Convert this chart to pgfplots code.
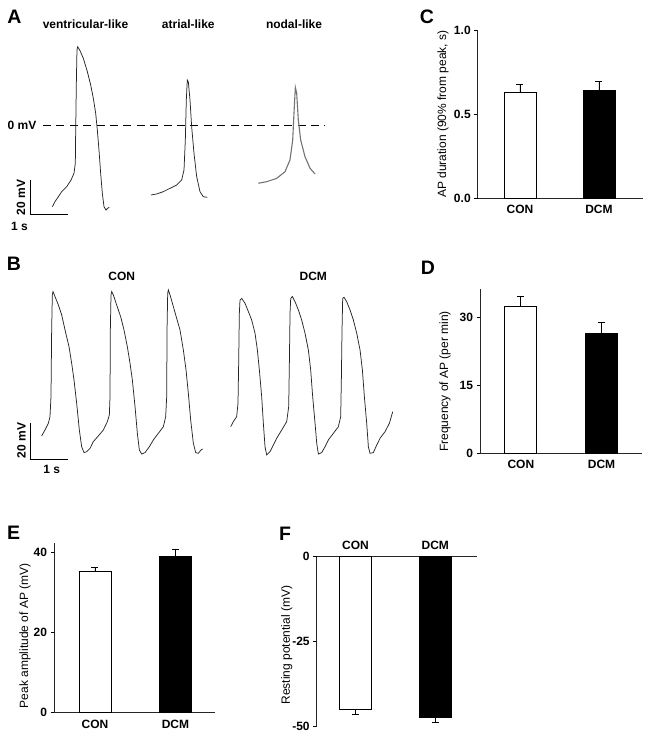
\documentclass[border=0pt]{standalone}
\usepackage{fontspec}
\setmainfont{Liberation Sans}
\usepackage{pgfplots}
\pgfplotsset{compat=1.18}

\newcommand{\lbl}{\bfseries\fontsize{12}{14}\selectfont}
\newcommand{\panel}{\bfseries\fontsize{19.5}{20}\selectfont}

\pgfplotsset{
  barpanel/.style={
    scale only axis, clip=false,
    axis x line*=bottom, axis y line*=left,
    xtick={0,1}, xticklabels={CON,DCM},
    x tick style={draw=none},
    tick align=outside, major tick length=3.5pt,
    y tick style={black, line width=0.8pt},
    ticklabel style={font=\lbl},
    ylabel style={font=\fontsize{12}{14}\selectfont},
    axis line style={line width=0.9pt, black!85},
  },
  errstyle/.style={
    error bars/y explicit,
    error bars/error bar style={line width=0.8pt, black},
    error bars/error mark options={rotate=90, mark size=3.5pt, line width=0.8pt, black}},
  whitebar/.style={ybar, bar shift=0pt, bar width=32pt, fill=white, draw=black, line width=0.9pt, errstyle},
  blackbar/.style={ybar, bar shift=0pt, bar width=32pt, fill=black, draw=black, line width=0.9pt, errstyle},
  trace/.style={line width=0.75pt, black!85, no markers},
}

\begin{document}
\begin{tikzpicture}
\useasboundingbox (0,0) rectangle (649pt,743pt);

% ---------------- Panel A ----------------
\begin{axis}[at={(0pt,513pt)}, anchor=south west, scale only axis,
  width=340pt, height=230pt, xmin=0, xmax=9.019, ymin=-59.6, ymax=71.83,
  hide axis, clip=false]
\addplot[line width=0.9pt, dash pattern=on 8pt off 5.4pt] coordinates {(1.14,0) (8.62,0)};
\addplot[trace] coordinates {
(1.388,-46.3) (1.459,-43.4) (1.547,-40.6) (1.636,-37.7) (1.768,-34.9) (1.883,-31.1)
(1.963,-27.2) (1.998,-21.5) (2.007,-4.3) (2.025,24.2) (2.042,43.3) (2.060,45.1)
(2.122,42.9) (2.21,38.5) (2.317,30.9) (2.405,23.3) (2.476,15.6) (2.538,7.1)
(2.582,-2.5) (2.626,-13.9) (2.670,-27.2) (2.714,-38.6) (2.759,-46.3) (2.812,-48.2)
(2.856,-47.2) (2.9,-46.6)};
\addplot[trace] coordinates {
(4.005,-39.6) (4.156,-39.0) (4.332,-37.7) (4.509,-35.8) (4.686,-33.9) (4.819,-31.0)
(4.881,-25.3) (4.916,-8.2) (4.942,14.7) (4.968,26.1) (4.995,25.1) (5.040,14.7)
(5.084,-0.6) (5.146,-15.8) (5.217,-29.1) (5.305,-37.7) (5.393,-40.6) (5.499,-40.9)};
\addplot[line width=1.1pt, black!55, no markers] coordinates {
(6.852,-32.9) (7.074,-32.0) (7.339,-30.1) (7.560,-26.3) (7.692,-19.6) (7.764,-8.2)
(7.798,7.1) (7.834,21.9) (7.870,18.5) (7.913,3.3) (7.976,-8.2) (8.090,-17.7)
(8.223,-24.3) (8.355,-27.6)};
\addplot[line width=0.9pt, black] coordinates {(0.814,-31.0) (0.814,-51.0) (1.814,-51.0)};
\end{axis}
\node[font=\lbl] at (85.5pt,719pt) {ventricular-like};
\node[font=\lbl] at (188.3pt,719pt) {atrial-like};
\node[font=\lbl] at (294pt,719pt) {nodal-like};
\node[font=\lbl] at (22pt,617.3pt) {0 mV};
\node[font=\lbl, rotate=90] at (21pt,545.5pt) {20 mV};
\node[font=\lbl] at (19.5pt,517pt) {1 s};
\node[font=\panel] at (14.5pt,726pt) {A};

% ---------------- Panel B ----------------
\begin{axis}[at={(0pt,253pt)}, anchor=south west, scale only axis,
  width=400pt, height=260pt, xmin=0, xmax=10.81, ymin=-70, ymax=71.8,
  hide axis, clip=false]
\addplot[trace] coordinates {
(1.126,-40.5) (1.216,-37.3) (1.306,-33.6) (1.351,-30.0) (1.378,-19.1) (1.396,17.3)
(1.414,36.4) (1.432,38.2) (1.486,35.5) (1.577,30.9) (1.667,25.5) (1.757,17.3)
(1.865,8.2) (1.937,-0.9) (2.0,-10.0) (2.072,-22.7) (2.144,-37.3) (2.207,-46.4)
(2.270,-49.6) (2.342,-49.1) (2.432,-47.3) (2.523,-43.6) (2.658,-40.5) (2.793,-37.3)
(2.901,-32.7) (2.955,-29.1) (2.973,-19.1) (2.982,17.3) (3.0,36.4) (3.018,38.2)
(3.063,36.4) (3.153,30.9) (3.261,24.5) (3.351,17.3) (3.441,8.2) (3.514,-0.9)
(3.577,-10.0) (3.649,-24.5) (3.712,-39.1) (3.766,-48.2) (3.829,-50.4) (3.919,-49.6)
(4.036,-46.4) (4.144,-42.7) (4.279,-39.1) (4.414,-35.5) (4.477,-30.0) (4.505,-19.1)
(4.514,17.3) (4.532,37.3) (4.550,39.1) (4.595,36.4) (4.685,30.0) (4.775,23.6)
(4.865,17.3) (4.955,6.4) (5.027,-4.5) (5.090,-17.3) (5.153,-31.8) (5.225,-44.5)
(5.288,-49.6) (5.360,-50.0) (5.432,-48.2) (5.477,-47.6)};
\addplot[trace] coordinates {
(6.234,-35.5) (6.306,-32.7) (6.396,-30.0) (6.432,-22.7) (6.450,-0.9) (6.468,26.4)
(6.486,33.6) (6.532,34.5) (6.622,31.8) (6.712,27.3) (6.802,22.7) (6.892,15.5)
(6.955,6.4) (7.009,-4.5) (7.072,-19.1) (7.117,-33.6) (7.162,-46.4) (7.207,-50.9)
(7.297,-49.1) (7.387,-45.5) (7.477,-41.8) (7.613,-37.3) (7.748,-32.7) (7.802,-24.5)
(7.820,-0.9) (7.838,26.4) (7.856,34.5) (7.901,35.5) (7.973,32.7) (8.063,28.2)
(8.153,22.7) (8.243,15.5) (8.333,6.4) (8.396,-4.5) (8.450,-19.1) (8.514,-33.6)
(8.559,-44.5) (8.604,-50.4) (8.694,-49.6) (8.784,-46.4) (8.874,-42.7) (9.009,-39.1)
(9.144,-35.5) (9.207,-30.0) (9.225,-10.0) (9.243,17.3) (9.261,34.5) (9.297,35.1)
(9.369,32.7) (9.459,28.2) (9.550,22.7) (9.640,15.5) (9.730,6.4) (9.793,-4.5)
(9.847,-19.1) (9.910,-33.6) (9.955,-46.4) (10.0,-50.0) (10.090,-49.6) (10.180,-45.5)
(10.270,-41.8) (10.405,-38.2) (10.523,-33.6) (10.613,-27.3)};
\addplot[line width=0.9pt, black] coordinates {(0.83,-33.3) (0.83,-53.3) (1.83,-53.3)};
\end{axis}
\node[font=\lbl] at (121.7pt,466.3pt) {CON};
\node[font=\lbl] at (313.3pt,466.3pt) {DCM};
\node[font=\lbl, rotate=90] at (21.5pt,302.5pt) {20 mV};
\node[font=\lbl] at (51.7pt,273.7pt) {1 s};
\node[font=\panel] at (14pt,479pt) {B};

% ---------------- Panel C ----------------
\begin{axis}[barpanel, at={(477.7pt,544.7pt)}, anchor=south west,
  width=165.3pt, height=168.3pt, xmin=-0.535, xmax=1.557, ymin=0, ymax=1.0,
  ytick={0,0.5,1}, yticklabels={0.0,0.5,1.0},
  ylabel={AP duration (90\% from peak, s)},
  ylabel style={at={(axis description cs:-0.21,0.5)}, anchor=center}]
\addplot[whitebar, error bars/y dir=plus] coordinates {(0,0.627) +- (0,0.05)};
\addplot[blackbar, error bars/y dir=plus] coordinates {(1,0.643) +- (0,0.05)};
\end{axis}
\node[font=\panel] at (427pt,726pt) {C};

% ---------------- Panel D ----------------
\begin{axis}[barpanel, at={(480pt,289.7pt)}, anchor=south west,
  width=161.7pt, height=164pt, xmin=-0.506, xmax=1.498, ymin=0, ymax=36.3,
  ytick={0,15,30}, yticklabels={0,15,30},
  ylabel={Frequency of AP (per min)},
  ylabel style={at={(axis description cs:-0.216,0.437)}, anchor=center}]
\addplot[whitebar, error bars/y dir=plus] coordinates {(0,32.4) +- (0,2.3)};
\addplot[blackbar, error bars/y dir=plus] coordinates {(1,26.5) +- (0,2.5)};
\end{axis}
\node[font=\panel] at (428pt,475pt) {D};

% ---------------- Panel E ----------------
\begin{axis}[barpanel, at={(54pt,30.3pt)}, anchor=south west,
  width=161pt, height=169.4pt, xmin=-0.509, xmax=1.491, ymin=0, ymax=42.2,
  ytick={0,20,40}, yticklabels={0,20,40},
  ylabel={Peak amplitude of AP (mV)},
  ylabel style={at={(axis description cs:-0.18,0.454)}, anchor=center}]
\addplot[whitebar, error bars/y dir=plus] coordinates {(0,35.2) +- (0,1.1)};
\addplot[blackbar, error bars/y dir=plus] coordinates {(1,38.9) +- (0,1.9)};
\end{axis}
\node[font=\panel] at (13.7pt,210.5pt) {E};

% ---------------- Panel F ----------------
\begin{axis}[barpanel, axis x line*=top, at={(316.7pt,16.3pt)}, anchor=south west,
  width=160pt, height=170pt, xmin=-0.486, xmax=1.519, ymin=-50, ymax=0,
  ytick={-50,-25,0}, yticklabels={-50,-25,0},
  ylabel={Resting potential (mV)},
  ylabel style={at={(axis description cs:-0.1875,0.48)}, anchor=center}]
\addplot[whitebar, error bars/y dir=minus] coordinates {(0,-44.9) +- (0,1.5)};
\addplot[blackbar, error bars/y dir=minus] coordinates {(1,-47.3) +- (0,1.4)};
\end{axis}
\node[font=\panel] at (285pt,209pt) {F};
\end{tikzpicture}
\end{document}
